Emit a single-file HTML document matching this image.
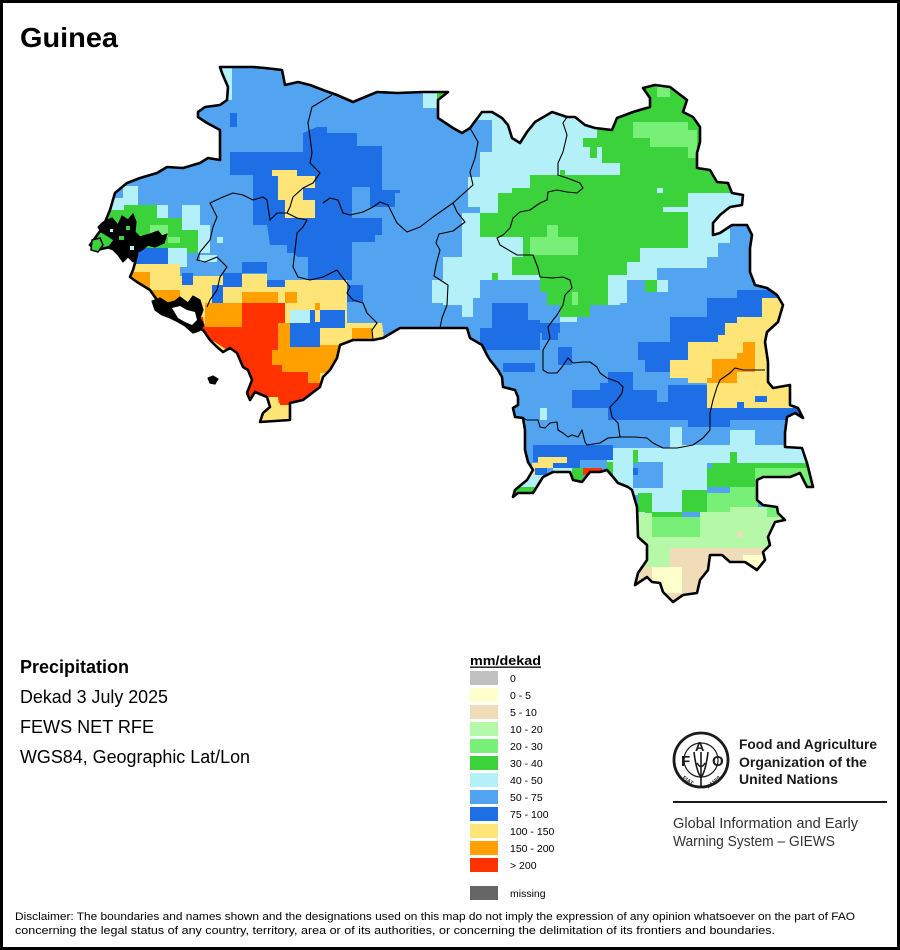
<!DOCTYPE html>
<html><head><meta charset="utf-8"><style>
html,body{margin:0;padding:0;background:#fff;}
svg{display:block;}
text{font-family:"Liberation Sans",Arial,sans-serif;}
</style></head><body>
<svg width="900" height="950" viewBox="0 0 900 950" xmlns="http://www.w3.org/2000/svg">
<defs>
<clipPath id="c"><polygon id="outline" points="220,67 253,67 265,68 282,70 285,85 298,82 310,85 323,90 337,95 353,102 365,97 377,92 397,93 423,92 437,92 448,92 438,100 438,118 453,128 462,133 470,128 482,112 492,112 502,118 508,125 512,138 520,143 527,132 535,122 552,112 567,117 575,117 585,125 595,128 612,130 617,118 633,112 650,107 650,98 643,88 655,85 670,87 687,100 683,112 693,117 700,127 700,142 697,153 697,168 710,170 717,182 728,183 732,193 743,195 742,205 730,207 720,215 713,223 713,235 720,233 732,225 747,225 752,235 750,248 750,272 755,285 767,288 777,295 783,305 778,322 767,332 765,342 768,362 768,382 773,388 790,385 790,405 798,408 803,418 795,413 787,417 785,433 785,447 802,448 807,463 813,487 807,487 800,473 790,477 763,477 757,480 757,500 763,505 777,507 778,513 785,520 775,522 768,537 770,545 763,552 765,560 757,570 745,562 730,562 722,555 710,555 708,570 700,580 697,593 683,595 673,602 663,592 660,583 652,582 647,577 635,585 638,573 647,560 647,545 638,537 637,507 632,490 628,487 618,483 613,477 607,470 600,472 590,472 582,482 573,480 570,472 553,472 543,477 533,493 518,493 513,497 515,490 527,480 533,470 528,462 525,450 525,430 523,418 515,417 513,408 518,405 518,397 515,390 503,387 502,377 498,370 490,360 487,355 482,345 470,338 467,328 440,328 400,328 383,338 373,340 353,340 340,345 337,358 330,370 323,377 320,387 303,400 290,403 290,420 260,422 263,413 270,407 267,397 255,392 250,400 247,393 252,380 248,370 243,367 237,353 230,348 223,352 217,347 210,340 203,330 193,327 187,313 177,307 167,305 157,300 150,290 137,282 130,277 133,270 135,263 137,250 127,250 110,247 97,250 90,245 103,227 110,210 115,193 127,183 140,178 157,173 167,167 183,168 200,163 208,158 220,160 220,130 207,123 198,117 198,112 205,107 220,105 227,100 228,87 222,73"/></clipPath>
</defs>

<!-- frame -->
<rect x="1.5" y="1.5" width="897" height="947" fill="#fff" stroke="#000" stroke-width="3"/>

<text x="20" y="47" font-size="28" font-weight="bold" textLength="98" lengthAdjust="spacingAndGlyphs">Guinea</text>

<!-- MAP -->
<use href="#outline" fill="#52a4f0"/>
<g clip-path="url(#c)" shape-rendering="crispEdges">
 <!-- West greens / cyan -->
 <polygon fill="#3cd23c" points="95,205 157,205 157,218 182,218 182,230 198,230 198,253 182,253 182,248 137,248 95,252"/>
 <rect x="150" y="225" width="18" height="12" fill="#78f078"/>
 <rect x="168" y="237" width="12" height="6" fill="#78f078"/>
 <g fill="#b4f0f8">
  <rect x="212" y="60" width="20" height="40"/>
  <rect x="423" y="88" width="14" height="20"/>
  <rect x="123" y="186" width="15" height="19"/>
  <rect x="108" y="198" width="16" height="12"/>
  <rect x="157" y="205" width="11" height="13"/>
  <rect x="182" y="205" width="18" height="25"/>
  <rect x="198" y="225" width="12" height="28"/>
  <rect x="168" y="248" width="19" height="19"/>
  <rect x="200" y="255" width="17" height="7"/>
  <rect x="217" y="237" width="6" height="6"/>
 </g>
 <rect x="437" y="88" width="11" height="14" fill="#3cd23c"/>
 <!-- West dark blue -->
 <polygon fill="#1e6ee6" points="230,152 303,152 303,133 317,127 327,127 327,133 357,133 357,146 382,146 382,190 400,190 400,193 395,193 395,207 370,207 370,187 352,187 352,218 382,218 382,235 375,235 375,242 352,242 352,280 308,280 308,257 297,257 293,253 287,253 287,245 270,245 267,225 253,225 253,175 230,175"/>
 <polygon fill="#ffe478" points="272,170 297,170 297,176 315,176 315,188 303,188 303,200 315,200 315,218 285,218 285,200 278,200 278,176 272,176"/>
 <g fill="#1e6ee6">
  <rect x="230" y="113" width="7" height="14"/>
  <rect x="242" y="262" width="25" height="11"/>
  <rect x="133" y="248" width="35" height="19"/>
 </g>
 <!-- SW yellow / orange / red -->
 <polygon fill="#ffe478" points="115,264 180,264 180,276 242,276 242,274 267,274 267,280 347,280 347,323 382,323 385,345 330,400 295,430 240,430 200,350 150,300 115,282"/>
 <g fill="#1e6ee6">
  <rect x="182" y="273" width="11" height="12"/>
  <rect x="212" y="285" width="11" height="18"/>
  <rect x="223" y="273" width="19" height="14"/>
  <rect x="267" y="280" width="18" height="7"/>
  <rect x="347" y="285" width="16" height="17"/>
 </g>
 <g fill="#ffa000">
  <polygon points="118,272 150,272 150,290 180,290 180,304 150,304 140,300 118,290"/>
  <rect x="242" y="292" width="36" height="11"/>
  <rect x="285" y="292" width="12" height="11"/>
  <rect x="205" y="303" width="37" height="24"/>
  <rect x="272" y="345" width="66" height="28"/>
  <rect x="278" y="323" width="12" height="27"/>
  <rect x="308" y="373" width="12" height="12"/>
  <rect x="352" y="328" width="20" height="12"/>
  <rect x="315" y="303" width="5" height="7"/>
  <rect x="278" y="390" width="12" height="13"/>
 </g>
 <polygon fill="#ff3200" points="242,303 285,303 285,323 278,323 278,350 272,350 272,365 282,365 282,372 308,372 308,383 320,383 320,392 300,400 290,405 280,405 278,397 262,397 250,405 240,380 230,352 215,342 195,332 185,318 203,317 205,327 242,327"/>
 <rect x="250" y="393" width="10" height="7" fill="#ff3200"/>
 <rect x="290" y="310" width="18" height="13" fill="#b4f0f8"/>
 <rect x="300" y="310" width="10" height="13" fill="#b4f0f8"/>
 <g fill="#1e6ee6">
  <rect x="310" y="310" width="35" height="18"/>
  <rect x="290" y="323" width="30" height="24"/>
 </g>
 <rect x="315" y="310" width="5" height="12" fill="#ffe478"/>

 <!-- East cyan -->
 <polygon fill="#b4f0f8" points="468,100 468,127 492,127 492,152 480,152 480,177 468,177 468,207 480,207 480,213 462,213 462,257 443,257 443,280 432,280 432,303 443,303 443,305 462,305 462,317 473,317 473,298 480,298 480,280 540,280 540,292 547,292 547,305 560,305 560,322 577,322 577,317 590,317 590,305 620,305 620,303 627,303 627,280 657,280 657,268 707,268 707,257 718,257 718,243 730,243 730,225 770,225 770,100"/>
 <rect x="470" y="120" width="22" height="32" fill="#52a4f0"/>
 <!-- East green -->
 <polygon fill="#3cd23c" points="597,75 735,75 735,193 688,193 688,207 663,207 663,212 688,212 688,248 640,248 640,262 627,262 627,275 608,275 608,305 590,305 590,317 560,317 560,305 547,305 547,292 540,292 540,275 512,275 512,257 523,257 523,237 480,237 480,213 498,213 498,193 512,193 512,188 530,188 530,175 560,175 560,170 565,170 565,175 620,175 620,163 602,163 602,147 583,147 583,138 597,138"/>
 <rect x="590" y="147" width="7" height="11" fill="#3cd23c"/>
 <rect x="492" y="273" width="6" height="7" fill="#3cd23c"/>
 <rect x="645" y="280" width="12" height="12" fill="#3cd23c"/>
 <rect x="657" y="280" width="11" height="12" fill="#b4f0f8"/>
 <rect x="657" y="188" width="6" height="5" fill="#b4f0f8"/>
 <g fill="#78f078">
  <polygon points="633,122 688,122 688,130 697,130 697,158 688,158 688,147 650,147 650,138 633,138"/>
  <rect x="657" y="86" width="13" height="11"/>
  <polygon points="547,225 558,225 558,237 578,237 578,255 530,255 530,237 547,237"/>
  <rect x="572" y="292" width="6" height="13"/>
 </g>
 <!-- East dark blue -->
 <g fill="#1e6ee6">
  <polygon points="492,303 528,303 528,320 540,320 540,350 480,350 480,328 492,328"/>
  <rect x="540" y="323" width="20" height="10"/>
  <rect x="503" y="363" width="32" height="9"/>
  <rect x="542" y="323" width="16" height="17"/>
  <rect x="558" y="347" width="14" height="18"/>
  <polygon points="737,290 782,290 782,298 762,298 762,317 737,317 737,342 688,342 688,360 670,360 670,372 645,372 645,360 638,360 638,342 670,342 670,317 707,317 707,298 737,298"/>
  <polygon points="600,383 608,383 608,372 633,372 633,390 657,390 657,402 668,402 668,385 707,385 707,408 800,408 800,420 730,420 730,427 688,427 688,420 608,420 608,408 572,408 572,390 600,390"/>
 </g>
 <polygon fill="#ffe478" points="762,298 785,298 792,340 795,408 707,408 707,383 688,383 688,378 670,378 670,360 688,360 688,342 718,342 718,335 725,335 725,323 737,323 737,317 762,317"/>
 <rect x="755" y="396" width="12" height="6" fill="#1e6ee6"/>
 <rect x="737" y="402" width="7" height="6" fill="#1e6ee6"/>
 <g fill="#ffa000">
  <polygon points="712,359 737,359 737,353 743,353 743,342 755,342 755,372 737,372 737,383 707,383 707,378 712,378"/>
 </g>

 <!-- South east -->
 <polygon fill="#b4f0f8" points="607,448 670,448 670,427 682,427 682,445 730,445 730,430 755,430 755,445 815,445 815,463 707,463 707,490 682,490 682,512 652,512 652,517 638,517 638,495 633,495 633,490 613,490 613,475 607,475"/>
 <rect x="633" y="462" width="30" height="26" fill="#52a4f0"/>
 <rect x="633" y="468" width="5" height="7" fill="#1e6ee6"/>
 <polygon fill="#1e6ee6" points="533,445 613,445 613,460 580,460 580,468 553,468 553,462 533,462"/>
 <rect x="540" y="408" width="7" height="12" fill="#b4f0f8"/>
 <g fill="#3cd23c">
  <rect x="712" y="463" width="103" height="5"/>
  <rect x="707" y="468" width="48" height="19"/>
  <rect x="682" y="490" width="25" height="22"/>
  <rect x="638" y="493" width="14" height="19"/>
  <rect x="645" y="512" width="37" height="6"/>
  <rect x="633" y="450" width="5" height="13"/>
  <rect x="730" y="452" width="7" height="11"/>
  <rect x="572" y="468" width="11" height="12"/>
  <rect x="512" y="487" width="23" height="10"/>
  <rect x="607" y="462" width="6" height="13"/>
 </g>
 <g fill="#78f078">
  <rect x="755" y="468" width="60" height="19"/>
  <rect x="707" y="493" width="23" height="19"/>
  <rect x="730" y="487" width="28" height="20"/>
  <rect x="652" y="517" width="48" height="20"/>
  <rect x="767" y="507" width="15" height="10"/>
 </g>
 <g fill="#b4f8a8">
  <rect x="700" y="512" width="30" height="25"/>
  <rect x="730" y="507" width="37" height="30"/>
  <rect x="767" y="517" width="20" height="20"/>
  <rect x="630" y="513" width="22" height="24"/>
  <rect x="630" y="537" width="150" height="13"/>
  <rect x="630" y="550" width="40" height="17"/>
 </g>
 <g fill="#f0dcb9">
  <rect x="670" y="548" width="110" height="19"/>
  <rect x="630" y="567" width="140" height="40"/>
  <rect x="737" y="532" width="6" height="5"/>
 </g>
 <g fill="#ffffcc">
  <rect x="652" y="567" width="30" height="26"/>
  <rect x="743" y="555" width="22" height="12"/>
 </g>
 <g fill="#ffe478">
  <rect x="538" y="457" width="29" height="6"/>
  <rect x="532" y="463" width="21" height="5"/>
  <rect x="520" y="468" width="15" height="7"/>
 </g>
 <rect x="535" y="468" width="12" height="7" fill="#1e6ee6"/>
 <rect x="553" y="468" width="19" height="7" fill="#b4f0f8"/>
 <rect x="515" y="475" width="28" height="12" fill="#b4f0f8"/>
 <rect x="583" y="468" width="19" height="7" fill="#ff3200"/>
</g>

<!-- internal boundaries -->
<g fill="none" stroke="#000" stroke-width="1.1" stroke-linejoin="round">
 <polyline points="332,95 312,107 308,123 310,137 312,153 310,163 320,173 313,183 303,188 293,197 290,207 287,213 277,213 270,220 267,200 263,197 253,200 243,195 233,193 223,197 210,203 217,217 213,227 210,240 200,252 197,260 205,262 217,257 227,267 220,277 217,290 210,300 207,307"/>
 <polyline points="287,213 297,218 307,220 303,227 297,233 295,250 293,267 298,277 310,280 323,277 337,270 343,278 350,287 347,293 353,300 363,303 367,313 377,323 372,330 373,340"/>
 <polyline points="323,203 330,198 338,200 343,213 350,215 363,212 373,207 380,202 388,205 397,223 407,232 420,227 433,217 453,203"/>
 <polyline points="470,128 478,142 475,158 470,172 473,185 453,203 457,212 465,222 453,231 439,234 436,243 440,250 436,265 434,276 448,285 447,305 442,318 440,328"/>
 <polyline points="567,117 563,123 567,135 563,152 558,163 558,175 567,178 580,183 583,188 577,193 567,192 557,190 548,192 547,200 540,203 530,210 520,212 513,218 510,228 503,235 497,238 500,245 517,255 533,255 538,268 540,277 552,278 563,277 570,280 572,288 565,295 563,305 557,315 553,320 548,327 550,338 543,350 543,370 548,373 557,373 562,367 568,358 573,363 583,362 590,362 597,367 600,373 607,378 618,382 623,387 622,393 617,400 610,407 612,417 618,423 620,437 635,437 647,438 653,443 663,448 677,448 693,445 703,438 710,430 710,413 713,400 717,387 720,380 730,373 735,368 743,370 765,370"/>
 <polyline points="523,418 527,420 538,420 540,427 545,428 550,423 557,422 558,430 563,433 568,437 572,435 578,437 582,430 585,442 587,445 600,443 608,438 620,437"/>
</g>
<!-- country outline -->
<use href="#outline" fill="none" stroke="#000" stroke-width="2.6" stroke-linejoin="round"/>
<!-- coastal islands -->
<g fill="#000" stroke="#000" stroke-width="1.2" stroke-linejoin="round">
 <polygon points="103,222 112,218 118,225 122,216 128,220 133,214 136,222 135,232 140,237 150,234 158,231 162,236 167,234 164,243 155,247 148,245 142,250 138,252 137,258 133,262 128,257 123,262 118,255 113,250 108,248 114,240 108,236 101,232 98,227"/>
 <polygon points="152,301 160,298 168,303 175,301 180,297 188,303 193,296 200,300 203,310 200,318 204,325 199,331 193,333 185,326 178,322 170,318 162,315 155,310"/>
 <polygon points="208,378 213,376 218,379 215,384 210,383"/>
</g>
<g fill="#3cd23c">
 <rect x="119" y="236" width="5" height="4"/>
 <rect x="126" y="226" width="4" height="4"/>
</g>
<g fill="#b4f0f8">
 <rect x="130" y="246" width="4" height="4"/>
 <rect x="110" y="229" width="3" height="3"/>
</g>
<polygon points="172,308 180,306 187,310 195,312 197,320 192,325 185,322 178,318" fill="#fff"/>
<polygon points="92,240 100,238 103,245 98,252 91,250" fill="#3cd23c" stroke="#000" stroke-width="1.5"/>

<!-- left info -->
<text x="20" y="673" font-size="18" font-weight="bold" textLength="109" lengthAdjust="spacingAndGlyphs">Precipitation</text>
<text x="20" y="703" font-size="18" textLength="148" lengthAdjust="spacingAndGlyphs">Dekad 3 July 2025</text>
<text x="20" y="733" font-size="18" textLength="134" lengthAdjust="spacingAndGlyphs">FEWS NET RFE</text>
<text x="20" y="763" font-size="18" textLength="230" lengthAdjust="spacingAndGlyphs">WGS84, Geographic Lat/Lon</text>

<!-- legend -->
<text x="470" y="665" font-size="13" font-weight="bold" textLength="71" lengthAdjust="spacingAndGlyphs">mm/dekad</text>
<rect x="470" y="666.5" width="71" height="1.3" fill="#000"/>
<g>
 <rect x="470" y="671" width="28" height="14" fill="#c0c0c0"/>
 <rect x="470" y="688" width="28" height="14" fill="#ffffcc"/>
 <rect x="470" y="705" width="28" height="14" fill="#f0dcb9"/>
 <rect x="470" y="722" width="28" height="14" fill="#b4f8a8"/>
 <rect x="470" y="739" width="28" height="14" fill="#78f078"/>
 <rect x="470" y="756" width="28" height="14" fill="#3cd23c"/>
 <rect x="470" y="773" width="28" height="14" fill="#b4f0f8"/>
 <rect x="470" y="790" width="28" height="14" fill="#52a4f0"/>
 <rect x="470" y="807" width="28" height="14" fill="#1e6ee6"/>
 <rect x="470" y="824" width="28" height="14" fill="#ffe478"/>
 <rect x="470" y="841" width="28" height="14" fill="#ffa000"/>
 <rect x="470" y="858" width="28" height="14" fill="#ff3200"/>
 <rect x="470" y="886" width="28" height="14" fill="#666666"/>
</g>
<g font-size="10.5">
 <text x="510" y="682">0</text>
 <text x="510" y="699">0 - 5</text>
 <text x="510" y="716">5 - 10</text>
 <text x="510" y="733">10 - 20</text>
 <text x="510" y="750">20 - 30</text>
 <text x="510" y="767">30 - 40</text>
 <text x="510" y="784">40 - 50</text>
 <text x="510" y="801">50 - 75</text>
 <text x="510" y="818">75 - 100</text>
 <text x="510" y="835">100 - 150</text>
 <text x="510" y="852">150 - 200</text>
 <text x="510" y="869">&gt; 200</text>
 <text x="510" y="897">missing</text>
</g>

<!-- FAO logo -->
<g>
 <circle cx="701" cy="760" r="27" fill="#fff" stroke="#1a1a1a" stroke-width="2.8"/>
 <circle cx="701" cy="760" r="17" fill="none" stroke="#1a1a1a" stroke-width="1.2"/>
 <text x="681" y="766" font-size="15" font-weight="bold" fill="#1a1a1a">F</text>
 <text x="695" y="751" font-size="13" font-weight="bold" fill="#1a1a1a">A</text>
 <text x="712" y="766" font-size="15" font-weight="bold" fill="#1a1a1a">O</text>
 <path d="M701 752 L701 787 M694 752 Q696 770 701 778 M708 752 Q706 770 701 778 M697 763 Q701 770 705 763" stroke="#1a1a1a" stroke-width="1.6" fill="none"/>
 <text x="682" y="781" font-size="5.5" font-weight="bold" fill="#1a1a1a" transform="rotate(35 686 780)">FIAT</text>
 <text x="705" y="785" font-size="5.5" font-weight="bold" fill="#1a1a1a" transform="rotate(-40 712 782)">PANIS</text>
</g>
<g fill="#1a1a1a" font-weight="bold" font-size="14">
 <text x="739" y="749" textLength="138" lengthAdjust="spacingAndGlyphs">Food and Agriculture</text>
 <text x="739" y="767" textLength="128" lengthAdjust="spacingAndGlyphs">Organization of the</text>
 <text x="739" y="784" textLength="99" lengthAdjust="spacingAndGlyphs">United Nations</text>
</g>
<rect x="673" y="801" width="214" height="2" fill="#1a1a1a"/>
<g fill="#333" font-size="14.5">
 <text x="673" y="828" textLength="185" lengthAdjust="spacingAndGlyphs">Global Information and Early</text>
 <text x="673" y="846" textLength="162" lengthAdjust="spacingAndGlyphs">Warning System – GIEWS</text>
</g>

<!-- disclaimer -->
<g font-size="11" fill="#000">
 <text x="15" y="920" textLength="840" lengthAdjust="spacingAndGlyphs">Disclaimer: The boundaries and names shown and the designations used on this map do not imply the expression of any opinion whatsoever on the part of FAO</text>
 <text x="15" y="934" textLength="760" lengthAdjust="spacingAndGlyphs">concerning the legal status of any country, territory, area or of its authorities, or concerning the delimitation of its frontiers and boundaries.</text>
</g>
</svg>
</body></html>
